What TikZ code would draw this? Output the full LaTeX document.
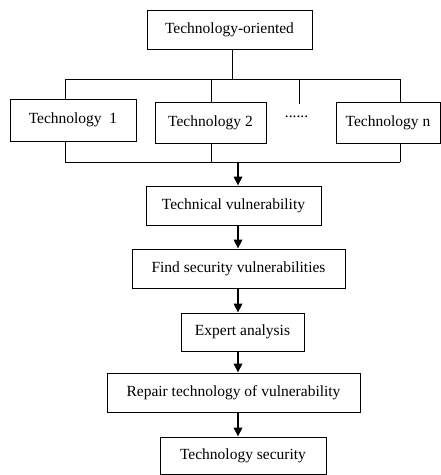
\documentclass[tikz,border=0pt]{standalone}
\usepackage{fontspec}
\setmainfont{Liberation Serif}
\usetikzlibrary{positioning}
\usetikzlibrary{arrows.meta}
\tikzset{techbox/.style={rectangle, draw=black, line width=0.9pt, inner sep=0pt, font=\fontsize{15.5}{17}\selectfont}}
\tikzset{flow/.style={line width=1.7pt, -{Triangle[length=9pt,width=8.5pt]}}}
\tikzset{link/.style={line width=0.9pt}}

\begin{document}
\begin{tikzpicture}[x=1pt,y=-1pt]
    \useasboundingbox (0,0) rectangle (441,475);
    \node [techbox, minimum width=165pt, minimum height=39pt](top) at (229.5,29.5){Technology-oriented};
    \node [techbox, minimum width=126pt, minimum height=42pt](tech1) at (73,120){Technology\ \ 1};
    \node [techbox, minimum width=111pt, minimum height=41pt](tech2) at (210.5,122.5){Technology 2};
    \node [font=\fontsize{15.5}{17}\selectfont, inner sep=0pt](dots) at (296.5,117) {......};
    \node [techbox, minimum width=104pt, minimum height=41pt](techn) at (388,122.5){Technology n};
    \node [techbox, minimum width=175pt, minimum height=39pt](tv) at (233.5,205.5){Technical vulnerability};
    \node [techbox, minimum width=213pt, minimum height=39pt](find) at (238.5,268.5){Find security vulnerabilities};
    \node [techbox, minimum width=123pt, minimum height=38pt](expert) at (242.5,332){Expert analysis};
    \node [techbox, minimum width=253pt, minimum height=39pt](repair) at (233.5,392.5){Repair technology of vulnerability};
    \node [techbox, minimum width=166pt, minimum height=37pt](sec) at (243,455.5){Technology security};

    % branches above and below
    \coordinate (j) at (232,79);
    \coordinate (b1) at (65,79);
    \coordinate (b2) at (211,79);
    \coordinate (bd) at (299,79);
    \coordinate (bdend) at (299,104);
    \coordinate (bn) at (400,79);
    \coordinate (m1) at (65,162);
    \coordinate (mn) at (400,162);
    \coordinate (ax) at (238,162);

    \draw[link] (top.south -| j) -- (j);
    \draw[link] (b1) -- (bn);
    \draw[link] (b1) -- (b1 |- tech1.north);
    \draw[link] (b2) -- (b2 |- tech2.north);
    \draw[link] (bd) -- (bdend);
    \draw[link] (bn) -- (bn |- techn.north);
    \draw[link] (tech1.south -| m1) -- (m1);
    \draw[link] (tech2.south -| b2) -- (b2 |- m1);
    \draw[link] (techn.south -| mn) -- (mn);
    \draw[link] (m1) -- (mn);

    \draw[flow] (ax) -- (ax |- tv.north);
    \draw[flow] (tv.south -| ax) -- (ax |- find.north);
    \draw[flow] (find.south -| ax) -- (ax |- expert.north);
    \draw[flow] (expert.south -| ax) -- (ax |- repair.north);
    \draw[flow] (repair.south -| ax) -- (ax |- sec.north);
\end{tikzpicture}
\end{document}
